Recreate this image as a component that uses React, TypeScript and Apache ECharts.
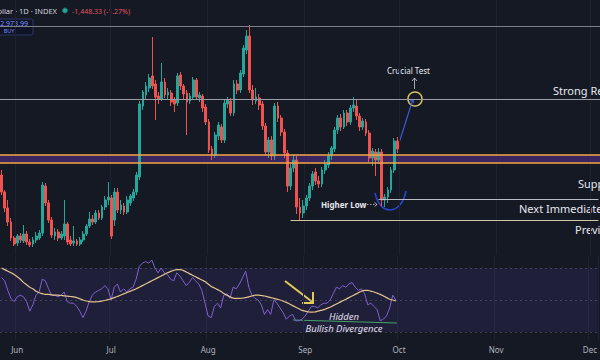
import React, { useEffect, useRef } from "react";
import * as echarts from "echarts";

// Daily categories (May 27 -> Dec 3)
const startYear = 2023;
const dayCount = 191;
const dates: string[] = [];
for (let k = 0; k < dayCount; k++) {
  const d = new Date(Date.UTC(startYear, 4, 27 + k));
  dates.push(d.toISOString().slice(0, 10));
}
const monthNames = ["Jan", "Feb", "Mar", "Apr", "May", "Jun", "Jul", "Aug", "Sep", "Oct", "Nov", "Dec"];

const opens = [
  1250, 1080, 920, 780, 620, 570, 640, 590, 660, 580,
  560, 600, 620, 670, 1140, 970, 800, 640, 680, 620,
  640, 760, 600, 570, 590, 560, 600, 660, 740, 810,
  780, 870, 820, 930, 1000, 1020, 800, 1080, 900, 940,
  880, 970, 1020, 1080, 1230, 1940, 2050, 2120, 2240, 2160,
  2040, 2010, 2180, 2050, 2070, 2000, 1970, 2250, 2140, 2070,
  1990, 2030, 2200, 2020, 2040, 1930, 1780, 1510, 1450, 1640,
  1730, 1600, 1960, 1990, 1870, 2160, 2100, 2260, 2500, 2640,
  2100, 1990, 2020, 1960, 1740, 1480, 1600, 1440, 1940, 1820,
  1680, 1470, 1140, 1320, 1400, 930, 870, 940, 1020, 1140,
  1280, 1190, 1160, 1300, 1350, 1440, 1510, 1700, 1820, 1730,
  1870, 1780, 1920, 1940, 1840, 1730, 1780, 1670, 1420, 1480,
  1400, 1480, 1000, 1030, 1100, 1300, 1590,
];
const closes = [
  1080, 920, 780, 620, 560, 640, 600, 660, 580, 550,
  600, 640, 670, 1150, 970, 800, 650, 680, 620, 660,
  760, 580, 560, 590, 560, 600, 660, 740, 810, 780,
  870, 820, 930, 1000, 1030, 640, 1080, 900, 950, 880,
  1000, 1040, 1080, 1250, 1960, 2080, 2140, 2220, 2140, 2030,
  2010, 2180, 2050, 2080, 1980, 1960, 2240, 2140, 2060, 1980,
  2040, 2200, 2030, 2050, 1920, 1780, 1500, 1450, 1650, 1750,
  1600, 1970, 2000, 1870, 2160, 2100, 2270, 2520, 2640, 2100,
  2000, 2030, 1950, 1740, 1480, 1600, 1440, 1940, 1820, 1680,
  1470, 1140, 1320, 1400, 930, 870, 940, 1020, 1140, 1260,
  1190, 1160, 1300, 1360, 1440, 1520, 1700, 1820, 1730, 1870,
  1780, 1920, 1950, 1840, 1730, 1790, 1670, 1420, 1490, 1400,
  1480, 1000, 1030, 1100, 1300, 1590, 1510,
];
const lows = [
  1050, 880, 740, 590, 540, 540, 570, 570, 550, 530,
  530, 570, 600, 640, 940, 770, 620, 600, 590, 600,
  600, 550, 540, 540, 540, 540, 580, 640, 720, 750,
  760, 800, 800, 900, 950, 610, 740, 870, 860, 850,
  860, 940, 990, 1050, 1200, 1900, 2000, 2080, 2110, 1800,
  1960, 1990, 2020, 2000, 1940, 1880, 1940, 2100, 2000, 1650,
  1960, 2000, 2000, 1980, 1880, 1750, 1470, 1400, 1420, 1600,
  1570, 1570, 1920, 1840, 1840, 2060, 2070, 2230, 2460, 2070,
  1950, 1960, 1900, 1700, 1440, 1420, 1400, 1400, 1780, 1640,
  1420, 1080, 1100, 1280, 860, 800, 820, 900, 990, 1100,
  1150, 1120, 1130, 1260, 1320, 1400, 1480, 1660, 1690, 1710,
  1740, 1750, 1880, 1800, 1690, 1700, 1640, 1380, 1340, 1240,
  1360, 940, 930, 970, 1070, 1270, 1470,
];
const highs = [
  1300, 1100, 1000, 820, 640, 660, 670, 750, 690, 610,
  630, 680, 700, 1180, 1170, 1000, 830, 720, 710, 690,
  1000, 780, 640, 740, 610, 630, 690, 760, 880, 850,
  900, 900, 950, 1040, 1180, 1050, 1120, 1120, 1000, 970,
  1040, 1060, 1110, 1280, 1990, 2100, 2180, 2260, 2630, 2200,
  2080, 2370, 2220, 2120, 2100, 2030, 2270, 2280, 2160, 2100,
  2070, 2230, 2220, 2080, 2060, 1960, 1810, 1540, 1680, 1780,
  1760, 2000, 2030, 2020, 2200, 2200, 2300, 2550, 2700, 2750,
  2150, 2120, 2060, 1990, 1770, 1630, 1640, 1970, 1980, 1850,
  1710, 1500, 1360, 1450, 1440, 1020, 1000, 1050, 1170, 1290,
  1320, 1240, 1330, 1400, 1480, 1540, 1730, 1850, 1860, 1900,
  1900, 1950, 2030, 2000, 1870, 1820, 1810, 1700, 1520, 1510,
  1520, 1510, 1060, 1130, 1330, 1620, 1630,
];

const rsi = [
  64, 62, 56, 51, 49, 52, 53, 52, 49, 43,
  47, 53, 55, 63, 62, 57, 53, 53, 52, 53,
  55, 49, 48, 48, 46, 43, 39, 43, 49, 53,
  55, 56, 57, 59, 57, 50, 58, 60, 55, 57,
  55, 57, 58, 63, 71, 73, 74, 73, 75, 70,
  67, 70, 67, 66, 63, 62, 67, 65, 62, 59,
  61, 64, 62, 60, 56, 48, 40, 39, 46, 48,
  45, 53, 54, 51, 58, 57, 60, 64, 68, 58,
  53, 51, 50, 47, 41, 44, 41, 50, 48, 45,
  42, 38, 40, 41, 37, 37, 38, 40, 43, 46,
  46, 45, 47, 48, 48, 50, 54, 58, 57, 59,
  58, 60, 61, 58, 56, 57, 54, 47, 48, 46,
  44, 37, 38, 40, 45, 53, 50,
];
const rsiMa = [
  70, 69, 68, 67, 66, 64.5, 63, 61, 59.5, 58,
  57, 55.5, 54.5, 54, 53.5, 53.5, 53.2, 53, 53, 52.8,
  52.6, 52.4, 52.2, 52, 51.5, 50.8, 50, 49.4, 49, 48.8,
  48.8, 49, 49.3, 49.7, 50.2, 50.8, 51.5, 52.2, 53, 53.8,
  54.6, 55.4, 56.2, 57, 58, 59, 60, 61, 62, 63,
  64, 65, 66, 67, 67.8, 68.5, 69, 69, 68.5, 67.5,
  66.5, 65.5, 64.5, 63.5, 62.5, 61.5, 60, 58.5, 57.5, 56.5,
  55.5, 54, 53, 52, 51.2, 51, 51, 51.2, 51.5, 52,
  52.5, 53, 53, 52.8, 52.5, 52, 51.5, 51, 50.5, 50,
  49.3, 48.5, 47.5, 46.5, 45.5, 44.5, 43.5, 43, 42.6, 42.4,
  42.5, 43, 43.5, 44, 44.8, 45.5, 46.5, 47.5, 48.5, 49.5,
  50.5, 51.5, 52.5, 53.5, 54.5, 55.5, 56, 56, 55.5, 55,
  54.3, 53.5, 52.5, 51.5, 50.5, 50, 49.5,
];

// Horizontal levels (price units)
const topLevel = 2740;
const strongResistance = 2010;
const supportZoneTop = 1455;
const supportZoneBottom = 1370;
const nextImmediateSupport = 1010;
const nextImmediateStart = 120;
const previousSupport = 800;
const previousStart = 92;

const FONT = "'Noto Sans', 'Open Sans', sans-serif";

export default function App() {
  const ref = useRef<HTMLDivElement>(null);
  useEffect(() => {
    if (!ref.current) return;
    const chart = echarts.init(ref.current, null, { renderer: "svg" });
    const candleData = opens.map((o, i) => [o, closes[i], lows[i], highs[i]]);
    const last = dates[dates.length - 1];
    const isMonthStart = (_i: number, v: string) => v.slice(8, 10) === "01";

    const white = "#e6e8ee";
    const option: any = {
      animation: false,
      backgroundColor: "#151924",
      grid: [
        { left: -2.37, width: 603.2, top: 0, height: 255 },
        { left: -2.37, width: 603.2, top: 256, height: 84 },
      ],
      xAxis: [
        {
          type: "category", gridIndex: 0, data: dates, boundaryGap: true,
          axisLine: { show: false }, axisTick: { show: false }, axisLabel: { show: false },
          splitLine: { show: true, interval: isMonthStart, lineStyle: { color: "#1d2130", width: 1 } },
        },
        {
          type: "category", gridIndex: 1, data: dates, boundaryGap: true,
          axisLine: { show: false }, axisTick: { show: false },
          axisLabel: {
            show: true, interval: isMonthStart, color: "#b2b5be", fontSize: 8, margin: 5, fontFamily: FONT,
            formatter: (v: string) => monthNames[parseInt(v.slice(5, 7), 10) - 1],
          },
          splitLine: { show: true, interval: isMonthStart, lineStyle: { color: "#1d2130", width: 1 } },
        },
      ],
      yAxis: [
        { type: "value", gridIndex: 0, min: 450, max: 3000, show: false },
        { type: "value", gridIndex: 1, min: 25, max: 77.5, show: false },
      ],
      series: [
        {
          type: "candlestick", xAxisIndex: 0, yAxisIndex: 0, data: candleData, barWidth: 2.3,
          itemStyle: { color: "#26a69a", color0: "#ef5350", borderColor: "#26a69a", borderColor0: "#ef5350", borderWidth: 1 },
          markArea: {
            silent: true,
            itemStyle: { color: "rgba(85, 45, 135, 0.6)" },
            data: [[{ yAxis: supportZoneBottom }, { yAxis: supportZoneTop }]],
          },
          markLine: {
            silent: true, symbol: ["none", "none"], label: { show: false },
            data: [
              { yAxis: topLevel, lineStyle: { color: "#7d808a", width: 1, type: "solid" } },
              { yAxis: strongResistance, lineStyle: { color: "#9a9da6", width: 1, type: "solid" } },
              { yAxis: supportZoneTop, lineStyle: { color: "#f3a645", width: 1.6, type: "solid" } },
              { yAxis: supportZoneBottom, lineStyle: { color: "#f3a645", width: 1.6, type: "solid" } },
              [
                { coord: [dates[nextImmediateStart], nextImmediateSupport], lineStyle: { color: "#b9bcc4", width: 1, type: "solid" } },
                { coord: [last, nextImmediateSupport] },
              ],
              [
                { coord: [dates[previousStart], previousSupport], lineStyle: { color: "#cfc7a6", width: 1, type: "solid" } },
                { coord: [last, previousSupport] },
              ],
            ],
          },
        },
        {
          type: "line", xAxisIndex: 1, yAxisIndex: 1, data: rsi, showSymbol: false, symbol: "none",
          lineStyle: { color: "#7e62d0", width: 1 }, z: 3,
          markArea: {
            silent: true,
            itemStyle: { color: "rgba(110, 80, 200, 0.13)" },
            data: [[{ yAxis: 30 }, { yAxis: 70 }]],
          },
          markLine: {
            silent: true, symbol: ["none", "none"], label: { show: false },
            lineStyle: { color: "rgba(130,130,150,0.35)", type: [2, 3], width: 1 },
            data: [{ yAxis: 70 }, { yAxis: 50 }, { yAxis: 30 }],
          },
        },
        {
          type: "line", xAxisIndex: 1, yAxisIndex: 1, data: rsiMa, showSymbol: false, symbol: "none",
          smooth: true, lineStyle: { color: "#e2c48e", width: 1.2 }, z: 4,
        },
      ],
      graphic: [
        // header
        { type: "text", x: 57, y: 11, style: { text: "Dollar · 1D · INDEX", align: "right", verticalAlign: "middle", fill: "#d1d4dc", fontSize: 7.5, fontFamily: FONT } },
        { type: "circle", shape: { cx: 65, cy: 10.5, r: 2.6 }, style: { fill: "#26a69a", stroke: "#1b5e55", lineWidth: 1 } },
        { type: "text", x: 72, y: 11, style: { text: "-1,448.33 (-1.27%)", align: "left", verticalAlign: "middle", fill: "#e0545a", fontSize: 7, fontFamily: FONT } },
        { type: "rect", shape: { x: -2, y: 19, width: 35, height: 16, r: 2 }, style: { fill: "#0f1424", stroke: "#2a3764", lineWidth: 1 } },
        { type: "text", x: 28, y: 23.5, style: { text: "2,973.99", align: "right", verticalAlign: "middle", fill: "#7d8dff", fontSize: 7, fontFamily: FONT } },
        { type: "text", x: 9, y: 30.5, style: { text: "BUY", align: "center", verticalAlign: "middle", fill: "#7d8dff", fontSize: 5.5, fontFamily: FONT } },
        // right labels
        { type: "text", x: 553, y: 90, style: { text: "Strong Resistance", align: "left", verticalAlign: "middle", fill: white, fontSize: 11, fontFamily: FONT } },
        { type: "text", x: 578, y: 183, style: { text: "Support", align: "left", verticalAlign: "middle", fill: white, fontSize: 11, fontFamily: FONT } },
        { type: "text", x: 519, y: 208, style: { text: "Next Immediate Support", align: "left", verticalAlign: "middle", fill: white, fontSize: 11, fontFamily: FONT } },
        { type: "text", x: 575, y: 229, style: { text: "Previous Support", align: "left", verticalAlign: "middle", fill: white, fontSize: 11, fontFamily: FONT } },
        // crucial test
        { type: "text", x: 387, y: 70, style: { text: "Crucial Test", align: "left", verticalAlign: "middle", fill: white, fontSize: 8, fontFamily: FONT } },
        { type: "line", shape: { x1: 414.5, y1: 89, x2: 414.5, y2: 78 }, style: { stroke: "#c9cbd1", lineWidth: 0.8 } },
        { type: "polyline", shape: { points: [[412, 81], [414.5, 78], [417, 81]] }, style: { stroke: "#c9cbd1", lineWidth: 0.8, fill: "none" } },
        { type: "circle", shape: { cx: 415, cy: 99, r: 7 }, style: { fill: "none", stroke: "#d8c25e", lineWidth: 1.5 } },
        { type: "line", shape: { x1: 399, y1: 143, x2: 413, y2: 99 }, style: { stroke: "#3f5fe0", lineWidth: 1.1 } },
        { type: "polyline", shape: { points: [[409.5, 101.5], [413, 99], [413.8, 103]] }, style: { stroke: "#3f5fe0", lineWidth: 1, fill: "none" } },
        // higher low
        { type: "bezierCurve", shape: { x1: 375, y1: 193, cpx1: 380, cpy1: 216, cpx2: 401, cpy2: 216, x2: 406, y2: 191 }, style: { stroke: "#2347d0", lineWidth: 1.6, fill: "none" } },
        { type: "text", x: 321, y: 204, style: { text: "Higher Low", align: "left", verticalAlign: "middle", fill: white, fontSize: 8, fontWeight: "bold", fontFamily: FONT } },
        { type: "line", shape: { x1: 364, y1: 204.5, x2: 377, y2: 204.5 }, style: { stroke: "#c9cbd1", lineWidth: 0.8, lineDash: [1.5, 1.5] } },
        { type: "polyline", shape: { points: [[374.5, 202.5], [377, 204.5], [374.5, 206.5]] }, style: { stroke: "#c9cbd1", lineWidth: 0.8, fill: "none" } },
        // RSI annotations
        { type: "line", shape: { x1: 285, y1: 281, x2: 313, y2: 302.5 }, style: { stroke: "#f1df4c", lineWidth: 2 } },
        { type: "polyline", shape: { points: [[302, 303], [313, 303], [313, 292]] }, style: { stroke: "#f1df4c", lineWidth: 2, fill: "none" } },
        { type: "line", shape: { x1: 293, y1: 320, x2: 397, y2: 323 }, style: { stroke: "#3fae5a", lineWidth: 1.2 } },
        { type: "text", x: 344, y: 316.5, style: { text: "Hidden", align: "center", verticalAlign: "middle", fill: "#f2f2f2", fontSize: 9.5, fontStyle: "italic", fontFamily: FONT } },
        { type: "text", x: 344, y: 328, style: { text: "Bullish Divergence", align: "center", verticalAlign: "middle", fill: "#f2f2f2", fontSize: 9.5, fontStyle: "italic", fontFamily: FONT } },
      ],
    };
    chart.setOption(option);
    return () => chart.dispose();
  }, []);
  return <div ref={ref} style={{ position: "fixed", left: 0, top: 0, width: 600, height: 360 }} />;
}
